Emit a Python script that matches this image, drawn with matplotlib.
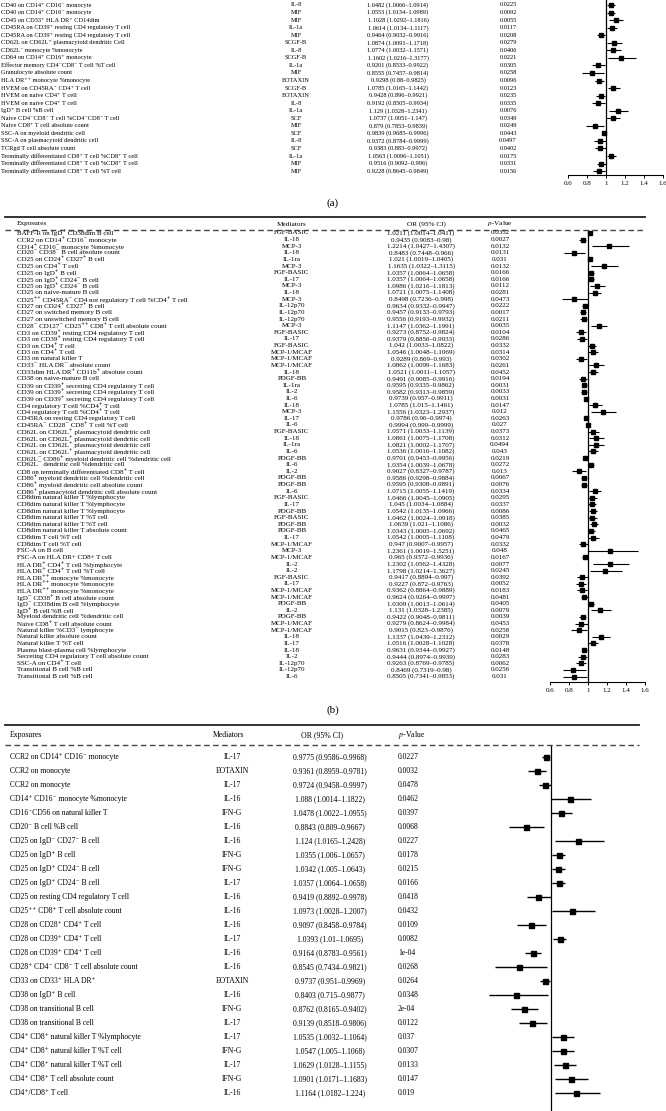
import numpy as np
import matplotlib.pyplot as plt
from matplotlib.lines import Line2D
from matplotlib.transforms import blended_transform_factory

plt.rcParams['font.family'] = ['Liberation Serif', 'DejaVu Serif']
plt.rcParams['mathtext.fontset'] = 'stix'

W, H = 666, 1111

# ---- panel (a) ----
a_exp = ["CD40 on CD14⁺ CD16⁻ monocyte", "CD40 on CD14⁺ CD16⁻ monocyte",
         "CD45 on CD33⁺ HLA DR⁺ CD14dim",
         "CD45RA on CD39⁺ resting CD4 regulatory T cell", "CD45RA on CD39⁺ resting CD4 regulatory T cell",
         "CD62L on CD62L⁺ plasmacytoid dendritic Cell", "CD62L⁻ monocyte %monocyte",
         "CD64 on CD14⁺ CD16⁺ monocyte", "Effector memory CD4⁻CD8⁻ T cell %T cell",
         "Granulocyte absolute count", "HLA DR⁺⁺ monocyte %monocyte", "HVEM on CD45RA⁻ CD4⁺ T cell",
         "HVEM on naive CD4⁺ T cell", "HVEM on naive CD4⁺ T cell", "IgD⁺ B cell %B cell",
         "Naive CD4⁻CD8⁻ T cell %CD4⁻CD8⁻ T cell", "Naive CD8⁺ T cell absolute count",
         "SSC-A on myeloid dendritic cell", "SSC-A on plasmacytoid dendritic cell",
         "TCRgd T cell absolute count",
         "Terminally differentiated CD8⁺ T cell %CD8⁺ T cell",
         "Terminally differentiated CD8⁺ T cell %CD8⁺ T cell",
         "Terminally differentiated CD8⁺ T cell %T cell"]
a_med = ["IL-8", "MIF", "MIF", "IL-1a", "MIF", "SCGF-B", "IL-8", "SCGF-B", "IL-1a", "MIF",
         "EOTAXIN", "SCGF-B", "EOTAXIN", "IL-8", "IL-1a", "SCF", "MIF", "SCF", "IL-8", "SCF",
         "IL-1a", "MIF", "MIF"]
a_or = [1.0482, 1.0553, 1.1028, 1.0614, 0.9464, 1.0874, 1.0774, 1.1602, 0.9201, 0.8555,
        0.9298, 1.0785, 0.9428, 0.9192, 1.129, 1.0737, 0.879, 0.9839, 0.9372, 0.9383,
        1.0563, 0.9516, 0.9228]
a_lo = [1.0066, 1.0134, 1.0292, 1.0134, 0.9032, 1.0091, 1.0032, 1.0216, 0.8533, 0.7457,
        0.88, 1.0165, 0.896, 0.8505, 1.0328, 1.0051, 0.7853, 0.9685, 0.8784, 0.883,
        1.0096, 0.9092, 0.8645]
a_hi = [1.0914, 1.0989, 1.1816, 1.1117, 0.9916, 1.1718, 1.1571, 1.3177, 0.9922, 0.9814,
        0.9825, 1.1442, 0.9921, 0.9934, 1.2341, 1.147, 0.9839, 0.9996, 0.9999, 0.9972,
        1.1051, 0.996, 0.9849]
a_p = ["0.0225", "0.0092", "0.0055", "0.0117", "0.0208", "0.0279", "0.0406", "0.0221",
       "0.0305", "0.0258", "0.0096", "0.0123", "0.0235", "0.0335", "0.0076", "0.0349",
       "0.0249", "0.0443", "0.0497", "0.0402", "0.0175", "0.0331", "0.0156"]

# ---- panel (b) ----
b_exp = ["BAFF-R on IgD⁺ CD38dim B cell", "CCR2 on CD14⁺ CD16⁻ monocyte",
         "CD14⁺ CD16⁻ monocyte %monocyte", "CD20⁻ CD38⁻ B cell absolute count",
         "CD25 on CD24⁺ CD27⁺ B cell", "CD25 on CD4⁺ T cell", "CD25 on IgD⁺ B cell",
         "CD25 on IgD⁺ CD24⁻ B cell", "CD25 on IgD⁺ CD24⁻ B cell", "CD25 on naive-mature B cell",
         "CD25⁺⁺ CD45RA⁻ CD4 not regulatory T cell %CD4⁺ T cell",
         "CD27 on CD24⁺ CD27⁺ B cell", "CD27 on switched memory B cell",
         "CD27 on unswitched memory B cell", "CD28⁻ CD127⁻ CD25⁺⁺ CD8⁺ T cell absolute count",
         "CD3 on CD39⁺ resting CD4 regulatory T cell", "CD3 on CD39⁺ resting CD4 regulatory T cell",
         "CD3 on CD4⁺ T cell", "CD3 on CD4⁺ T cell", "CD3 on natural killer T",
         "CD33⁻ HLA DR⁻ absolute count", "CD33dim HLA DR⁺ CD11b⁺ absolute count",
         "CD38 on naive-mature B cell",
         "CD39 on CD39⁺ secreting CD4 regulatory T cell",
         "CD39 on CD39⁺ secreting CD4 regulatory T cell",
         "CD39 on CD39⁺ secreting CD4 regulatory T cell",
         "CD4 regulatory T cell %CD4⁺ T cell", "CD4 regulatory T cell %CD4⁺ T cell",
         "CD45RA on resting CD4 regulatory T cell", "CD45RA⁻ CD28⁻ CD8⁺ T cell %T cell",
         "CD62L on CD62L⁺ plasmacytoid dendritic cell", "CD62L on CD62L⁺ plasmacytoid dendritic cell",
         "CD62L on CD62L⁺ plasmacytoid dendritic cell", "CD62L on CD62L⁺ plasmacytoid dendritic cell",
         "CD62L⁻ CD86⁺ myeloid dendritic cell %dendritic cell",
         "CD62L⁻ dendritic cell %dendritic cell",
         "CD8 on terminally differentiated CD8⁺ T cell",
         "CD86⁺ myeloid dendritic cell %dendritic cell",
         "CD86⁺ myeloid dendritic cell absolute count",
         "CD86⁺ plasmacytoid dendritic cell absolute count",
         "CD8dim natural killer T %lymphocyte", "CD8dim natural killer T %lymphocyte",
         "CD8dim natural killer T %lymphocyte", "CD8dim natural killer T %T cell",
         "CD8dim natural killer T %T cell", "CD8dim natural killer T absolute count",
         "CD8dim T cell %T cell", "CD8dim T cell %T cell", "FSC-A on B cell",
         "FSC-A on HLA DR+ CD8+ T cell", "HLA DR⁺ CD4⁺ T cell %lymphocyte",
         "HLA DR⁺ CD4⁺ T cell %T cell", "HLA DR⁺⁺ monocyte %monocyte",
         "HLA DR⁺⁺ monocyte %monocyte", "HLA DR⁺⁺ monocyte %monocyte",
         "IgD⁻ CD38⁺ B cell absolute count", "IgD⁻ CD38dim B cell %lymphocyte",
         "IgD⁺ B cell %B cell", "Myeloid dendritic cell %dendritic cell",
         "Naive CD8⁺ T cell absolute count", "Natural killer %CD3⁻ lymphocyte",
         "Natural killer absolute count", "Natural killer T %T cell",
         "Plasma blast-plasma cell %lymphocyte", "Secreting CD4 regulatory T cell absolute count",
         "SSC-A on CD4⁺ T cell", "Transitional B cell %B cell", "Transitional B cell %B cell"]
b_med = ["FGF-BASIC", "IL-18", "MCP-3", "IL-18", "IL-1ra", "MCP-3", "FGF-BASIC", "IL-17",
         "MCP-3", "IL-18", "MCP-3", "IL-12p70", "IL-12p70", "IL-12p70", "MCP-3", "FGF-BASIC",
         "IL-17", "FGF-BASIC", "MCP-1/MCAF", "MCP-1/MCAF", "MCP-1/MCAF", "IL-18", "PDGF-BB",
         "IL-1ra", "IL-2", "IL-6", "IL-18", "MCP-3", "IL-17", "IL-6", "FGF-BASIC", "IL-18",
         "IL-1ra", "IL-6", "PDGF-BB", "IL-6", "IL-2", "PDGF-BB", "PDGF-BB", "IL-6",
         "FGF-BASIC", "IL-17", "PDGF-BB", "FGF-BASIC", "PDGF-BB", "PDGF-BB", "IL-17",
         "MCP-1/MCAF", "MCP-3", "MCP-1/MCAF", "IL-2", "IL-2", "FGF-BASIC", "IL-17",
         "MCP-1/MCAF", "MCP-1/MCAF", "PDGF-BB", "IL-2", "PDGF-BB", "MCP-1/MCAF",
         "MCP-1/MCAF", "IL-18", "IL-17", "IL-18", "IL-2", "IL-12p70", "IL-12p70", "IL-6"]
b_or = [1.0211, 0.9435, 1.2214, 0.8483, 1.021, 1.1635, 1.0357, 1.0357, 1.0986, 1.0721,
        0.8498, 0.9634, 0.9457, 0.9556, 1.1147, 0.9273, 0.9379, 1.042, 1.0546, 0.9289,
        1.0862, 1.0521, 0.9491, 0.9595, 0.9582, 0.9739, 1.0785, 1.1556, 0.9786, 0.9994,
        1.0571, 1.0861, 1.0821, 1.0536, 0.9701, 1.0354, 0.9027, 0.9586, 0.9595, 1.0715,
        1.0466, 1.045, 1.0542, 1.0462, 1.0639, 1.0343, 1.0542, 0.947, 1.2361, 0.965,
        1.2302, 1.1798, 0.9417, 0.9227, 0.9362, 0.9624, 1.0309, 1.131, 0.9422, 0.9279,
        0.9015, 1.1337, 1.0516, 0.9631, 0.9444, 0.9263, 0.8469, 0.8505]
b_lo = [1.0014, 0.9083, 1.0427, 0.7448, 1.0019, 1.0322, 1.0064, 1.0064, 1.0216, 1.0075,
        0.7236, 0.9332, 0.9133, 0.9193, 1.0362, 0.8752, 0.8856, 1.0033, 1.0048, 0.869,
        1.0099, 1.0011, 0.9085, 0.9335, 0.9313, 0.957, 1.015, 1.0323, 0.96, 0.999,
        1.0033, 1.0075, 1.0002, 1.0016, 0.9453, 1.0039, 0.8327, 0.9298, 0.9308, 1.0055,
        1.0045, 1.0034, 1.0135, 1.0024, 1.021, 1.0005, 1.0005, 0.9007, 1.0019, 0.9372,
        1.0562, 1.0214, 0.8894, 0.872, 0.8864, 0.9264, 1.0013, 1.0328, 0.9048, 0.8624,
        0.823, 1.0439, 1.0028, 0.9344, 0.8974, 0.8769, 0.7319, 0.7341]
b_hi = [1.0411, 0.98, 1.4307, 0.966, 1.0405, 1.3115, 1.0658, 1.0658, 1.1813, 1.1408,
        0.998, 0.9947, 0.9793, 0.9932, 1.1991, 0.9824, 0.9933, 1.0822, 1.1069, 0.993,
        1.1683, 1.1057, 0.9916, 0.9862, 0.9859, 0.9911, 1.1461, 1.2937, 0.9974, 0.9999,
        1.1139, 1.1708, 1.1707, 1.1082, 0.9956, 1.0678, 0.9787, 0.9884, 0.9891, 1.1419,
        1.0905, 1.0884, 1.0966, 1.0918, 1.1086, 1.0692, 1.1108, 0.9957, 1.5251, 0.9936,
        1.4328, 1.3627, 0.997, 0.9763, 0.9889, 0.9997, 1.0614, 1.2385, 0.9811, 0.9984,
        0.9876, 1.2312, 1.1028, 0.9927, 0.9939, 0.9785, 0.98, 0.9853]
b_p = ["0.0352", "0.0027", "0.0132", "0.0131", "0.031", "0.0132", "0.0166", "0.0166",
       "0.0112", "0.0281", "0.0473", "0.0222", "0.0017", "0.0211", "0.0035", "0.0104",
       "0.0286", "0.0332", "0.0314", "0.0302", "0.0261", "0.0452", "0.0194", "0.0031",
       "0.0033", "0.0031", "0.0147", "0.012", "0.0263", "0.027", "0.0373", "0.0312",
       "0.0494", "0.043", "0.0219", "0.0272", "0.013", "0.0067", "0.0076", "0.0334",
       "0.0295", "0.0337", "0.0086", "0.0385", "0.0032", "0.0465", "0.0479", "0.0332",
       "0.048", "0.0167", "0.0077", "0.0245", "0.0392", "0.0052", "0.0183", "0.0481",
       "0.0405", "0.0079", "0.0039", "0.0453", "0.0258", "0.0029", "0.0378", "0.0148",
       "0.0283", "0.0062", "0.0256", "0.031"]

# ---- panel (c) ----
c_exp = ["CCR2 on CD14⁺ CD16⁻ monocyte", "CCR2 on monocyte", "CCR2 on monocyte",
         "CD14⁺ CD16⁻ monocyte %monocyte", "CD16⁻CD56 on natural killer T",
         "CD20⁻ B cell %B cell", "CD25 on IgD⁻ CD27⁻ B cell", "CD25 on IgD⁺ B cell",
         "CD25 on IgD⁺ CD24⁻ B cell", "CD25 on IgD⁺ CD24⁻ B cell",
         "CD25 on resting CD4 regulatory T cell", "CD25⁺⁺ CD8⁺ T cell absolute count",
         "CD28 on CD28⁺ CD4⁺ T cell", "CD28 on CD39⁺ CD4⁺ T cell", "CD28 on CD39⁺ CD4⁺ T cell",
         "CD28⁺ CD4⁻ CD8⁻ T cell absolute count", "CD33 on CD33⁺ HLA DR⁺",
         "CD38 on IgD⁺ B cell", "CD38 on transitional B cell", "CD38 on transitional B cell",
         "CD4⁺ CD8⁺ natural killer T %lymphocyte", "CD4⁺ CD8⁺ natural killer T %T cell",
         "CD4⁺ CD8⁺ natural killer T %T cell", "CD4⁺ CD8⁺ T cell absolute count",
         "CD4⁺/CD8⁺ T cell"]
c_med = ["IL-17", "EOTAXIN", "IL-17", "IL-16", "IFN-G", "IL-16", "IL-16", "IFN-G", "IFN-G",
         "IL-17", "IL-16", "IL-16", "IL-16", "IL-17", "IL-16", "IL-16", "EOTAXIN", "IL-16",
         "IFN-G", "IL-17", "IL-17", "IFN-G", "IL-17", "IFN-G", "IL-16"]
c_or = [0.9775, 0.9361, 0.9724, 1.088, 1.0478, 0.8843, 1.124, 1.0355, 1.0342, 1.0357,
        0.9419, 1.0973, 0.9097, 1.0393, 0.9164, 0.8545, 0.9737, 0.8403, 0.8762, 0.9139,
        1.0535, 1.0547, 1.0629, 1.0901, 1.1164]
c_lo = [0.9586, 0.8959, 0.9458, 1.0014, 1.0022, 0.809, 1.0165, 1.006, 1.005, 1.0064,
        0.8892, 1.0028, 0.8458, 1.01, 0.8783, 0.7434, 0.951, 0.715, 0.8165, 0.8518,
        1.0032, 1.005, 1.0128, 1.0171, 1.0182]
c_hi = [0.9968, 0.9781, 0.9997, 1.1822, 1.0955, 0.9667, 1.2428, 1.0657, 1.0643, 1.0658,
        0.9978, 1.2007, 0.9784, 1.0695, 0.9561, 0.9821, 0.9969, 0.9877, 0.9402, 0.9806,
        1.1064, 1.1068, 1.1155, 1.1683, 1.224]
c_p = ["0.0227", "0.0032", "0.0478", "0.0462", "0.0397", "0.0068", "0.0227", "0.0178",
       "0.0215", "0.0166", "0.0418", "0.0432", "0.0109", "0.0082", "1e-04", "0.0268",
       "0.0264", "0.0348", "2e-04", "0.0122", "0.037", "0.0307", "0.0133", "0.0147", "0.019"]

ticks = [0.6, 0.8, 1, 1.2, 1.4, 1.6]
tick_labels = ["0.6", "0.8", "1", "1.2", "1.4", "1.6"]

fig = plt.figure(figsize=(W / 100, H / 100), dpi=100)


def hline(x0, x1, y, **kw):
    fig.add_artist(Line2D([x0 / W, x1 / W], [1 - y / H, 1 - y / H],
                          transform=fig.transFigure, **kw))


def panel(exp, med, orv, lo, hi, pv, row0, step, box, xlim, cols, fs, ms, lw, axis=True):
    x0, x1, y0, y1 = box
    ax = fig.add_axes([x0 / W, 1 - y1 / H, (x1 - x0) / W, (y1 - y0) / H])
    ax.patch.set_visible(False)
    ax.set_xlim(*xlim)
    ax.set_ylim((y1 - row0) / step, (y0 - row0) / step)
    orv, lo, hi = np.array(orv), np.array(lo), np.array(hi)
    rows = np.arange(len(orv))
    ax.errorbar(orv, rows, xerr=[orv - lo, hi - orv], fmt='s', color='black',
                ms=ms, elinewidth=lw, capsize=0)
    ax.axvline(1, color='black', lw=0.9)
    for s in ['top', 'right', 'left']:
        ax.spines[s].set_visible(False)
    ax.set_yticks([])
    if axis:
        ax.spines['bottom'].set_linewidth(0.8)
        ax.set_xticks(ticks)
        ax.set_xticklabels(tick_labels)
        ax.tick_params(axis='x', direction='out', length=2.5, width=0.7, labelsize=5, pad=2)
    else:
        ax.spines['bottom'].set_visible(False)
        ax.set_xticks([])
    tr = blended_transform_factory(fig.transFigure, ax.transData)
    cx_exp, cx_med, cx_or, cx_p, p_ha = cols
    for i in rows:
        ax.text(cx_exp / W, i, exp[i], transform=tr, ha='left', va='center', fontsize=fs)
        ax.text(cx_med / W, i, med[i], transform=tr, ha='center', va='center', fontsize=fs)
        ax.text(cx_or / W, i, f"{orv[i]:g} ({lo[i]:g}–{hi[i]:g})", transform=tr,
                ha='center', va='center', fontsize=fs)
        ax.text(cx_p / W, i, pv[i], transform=tr, ha=p_ha, va='center', fontsize=fs)
    return ax


def header(y, rule_y, xs, fs, x_end):
    hline(5, x_end, rule_y, color='#222222', lw=1.3)
    names = ["Exposures", "Mediators", "OR (95% CI)", "$p$-Value"]
    has = ['left', 'center', 'center', xs[4]]
    for name, x, ha in zip(names, xs[:4], has):
        fig.text(x / W, 1 - y / H, name, ha=ha, va='center', fontsize=fs)


# panel (a)
panel(a_exp, a_med, a_or, a_lo, a_hi, a_p, row0=5, step=7.55,
      box=(568, 663, 0, 175), xlim=(0.6, 1.6),
      cols=(1, 296, 398, 508, 'center'), fs=4.6, ms=2.2, lw=0.8)
fig.text(333 / W, 1 - 203 / H, "(a)", ha='center', va='center', fontsize=8)

# panel (b)
header(224, 217.5, (17, 292, 426, 500, 'center'), 5.2, 645)
hline(5, 645, 229.5, color='#444444', lw=1.0, dashes=(4, 2.5))
panel(b_exp, b_med, b_or, b_lo, b_hi, b_p, row0=233, step=6.62,
      box=(550, 645, 229.5, 682), xlim=(0.6, 1.6),
      cols=(17, 292, 421, 500, 'center'), fs=5.0, ms=2.2, lw=0.8)
fig.text(333 / W, 1 - 710 / H, "(b)", ha='center', va='center', fontsize=8)

# panel (c)
header(735, 725, (10, 228, 322, 398, 'left'), 5.6, 639)
hline(5, 639, 744.5, color='#444444', lw=1.0, dashes=(4, 2.5))
panel(c_exp, c_med, c_or, c_lo, c_hi, c_p, row0=757, step=14,
      box=(464, 638, 744.5, 1111), xlim=(0.6, 1.4),
      cols=(10, 232, 330, 398, 'left'), fs=5.5, ms=3.6, lw=1.0, axis=False)

fig.savefig("out.png", dpi=100)
